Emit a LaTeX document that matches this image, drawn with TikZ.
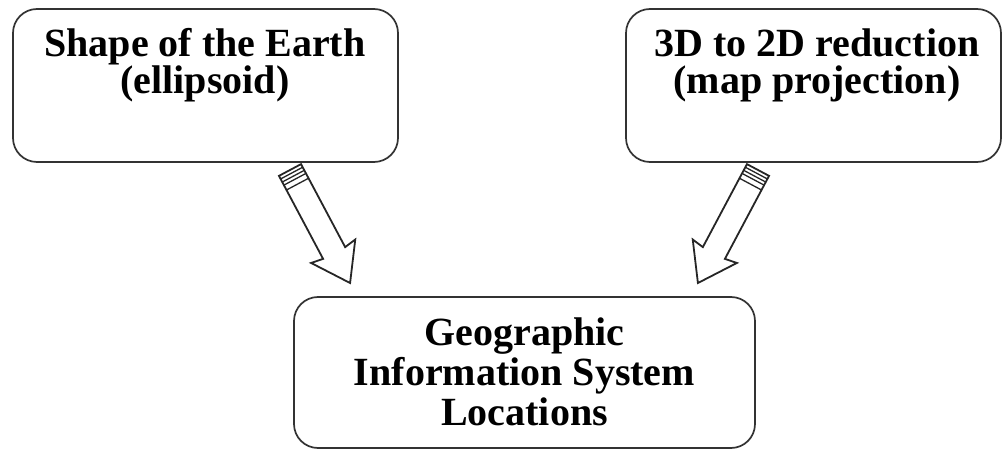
\documentclass[tikz,border=0pt]{standalone}
\usepackage{fontspec}
\setmainfont{Liberation Serif}
\usetikzlibrary{calc}
\tikzset{
  box/.style={draw=black!80, line width=1.7pt, rounded corners=24pt, inner sep=0pt},
  label/.style={font=\bfseries\fontsize{40}{37}\selectfont, align=center, inner sep=0pt, anchor=base},
  arrowline/.style={draw=black!85, line width=1.8pt, line join=miter, fill=white},
  stripe/.style={draw=black!85, line width=1.3pt}
}
\newcommand{\myblockarrow}[1]{%
  \draw[arrowline] (0,12.5) -- ({#1-34},12.5) -- ({#1-36},25) -- (#1,0) -- ({#1-36},-25) -- ({#1-34},-12.5) -- (0,-12.5) -- cycle;
  \foreach \s in {3.5,7,10.5,16} \draw[stripe] (\s,12.5) -- (\s,-12.5);
}
\begin{document}
\begin{tikzpicture}[x=1pt,y=1pt]
\useasboundingbox (0,0) rectangle (1002,-449);
% boxes
\node[box, minimum width=385pt, minimum height=153pt] (b1) at (205.5,-85.5) {};
\node[box, minimum width=375pt, minimum height=153pt] (b2) at (813.5,-85.5) {};
\node[box, minimum width=461pt, minimum height=151pt] (b3) at (524.5,-372.5) {};
% texts (base anchor = baseline of the last line)
\node[label] (t1) at (205,-94) {Shape of the Earth\\(ellipsoid)};
\node[label] (t2) at (817,-94) {3D to 2D reduction\\(map projection)};
\node[label, font=\bfseries\fontsize{40}{40}\selectfont] (t3) at (524.5,-425) {Geographic\\Information System\\Locations};
% block arrows
\coordinate (a1s) at (290,-170);
\coordinate (a1e) at (350,-283);
\coordinate (a2s) at (758,-170);
\coordinate (a2e) at (700,-283);
\begin{scope}[shift={(a1s)}, rotate=-62]
  \myblockarrow{128}
\end{scope}
\begin{scope}[shift={(a2s)}, rotate=-118]
  \myblockarrow{128}
\end{scope}
\end{tikzpicture}
\end{document}
